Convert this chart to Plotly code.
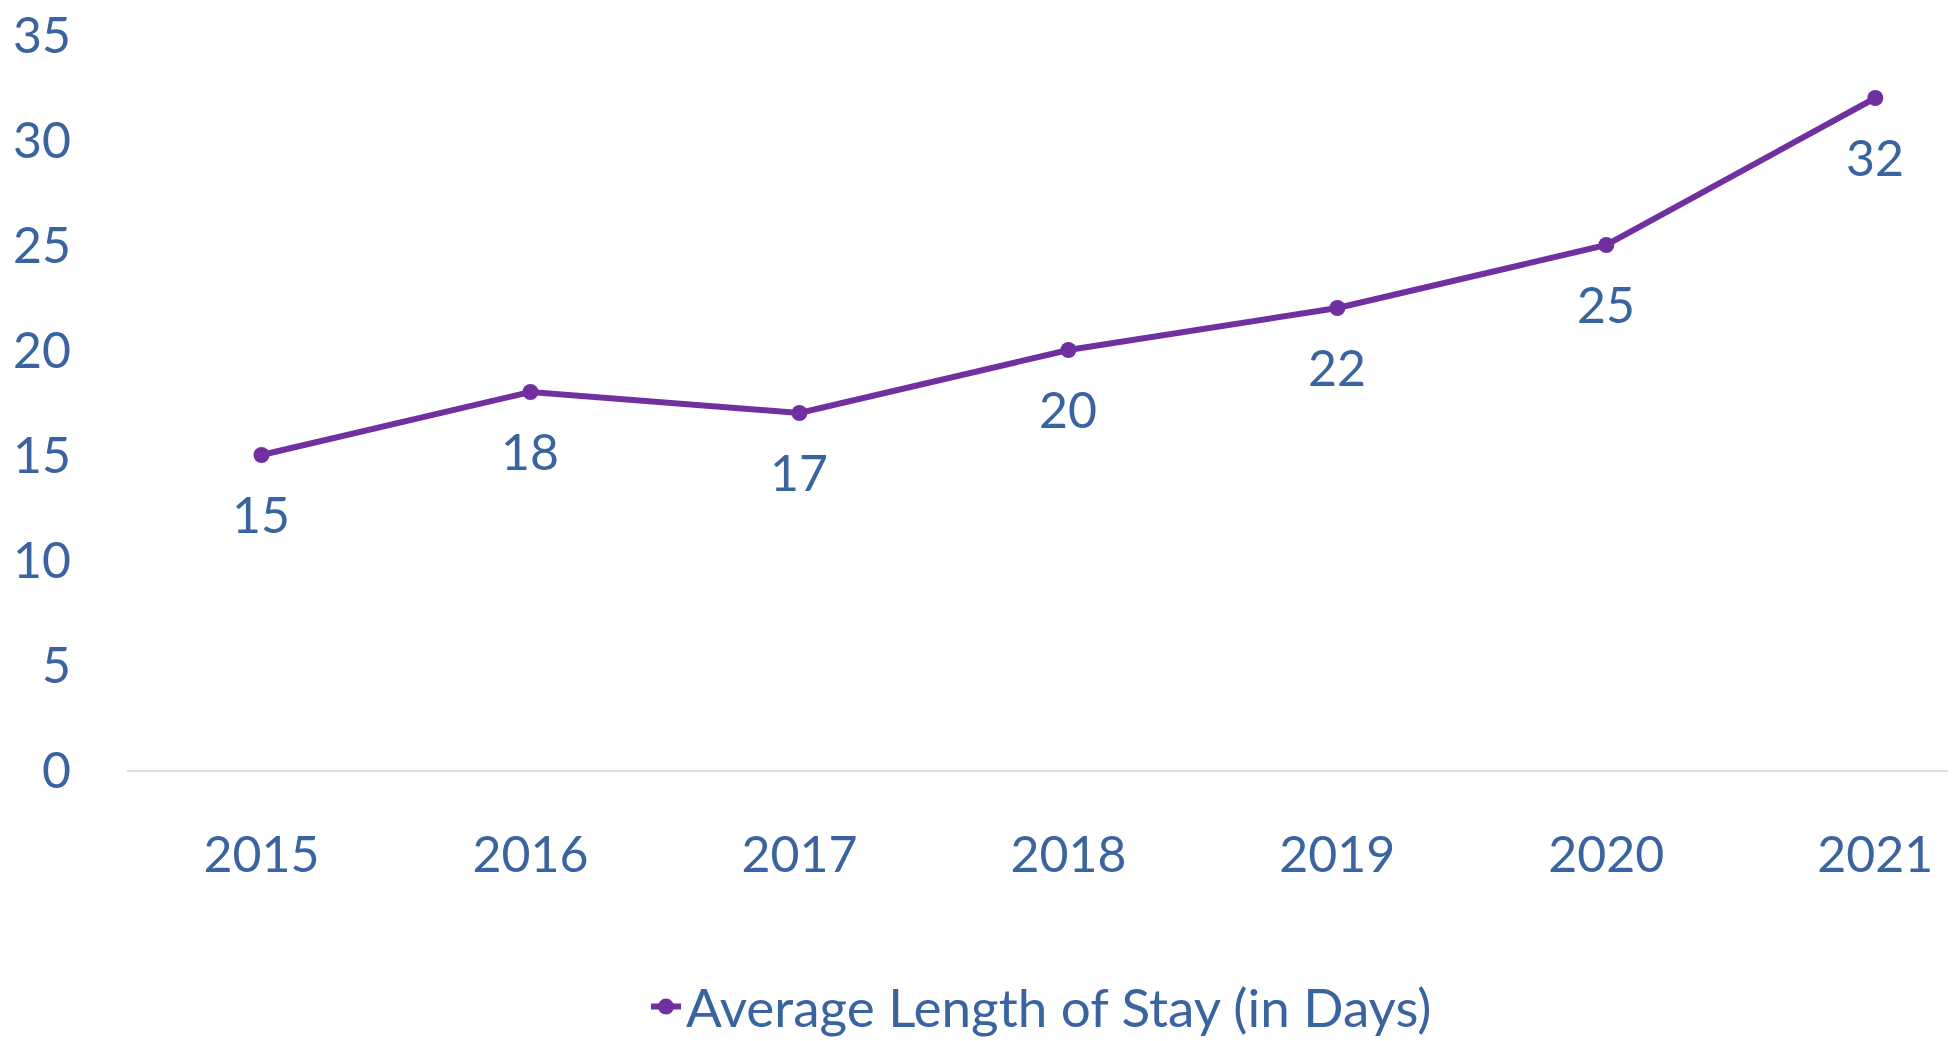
import plotly.graph_objects as go

years = ["2015", "2016", "2017", "2018", "2019", "2020", "2021"]
avg_stay = [15, 18, 17, 20, 22, 25, 32]
series_name = "Average Length of Stay (in Days)"

text_col = "#3A64A0"
line_col = "#7030A0"
font_fam = "Lato, 'Open Sans', sans-serif"

fig = go.Figure()
fig.add_trace(go.Scatter(
    x=years, y=avg_stay, name=series_name,
    mode="lines+markers",
    line=dict(color=line_col, width=6),
    marker=dict(color=line_col, size=16),
))

# data labels sit below each point (x given as category index)
for i, v in enumerate(avg_stay):
    fig.add_annotation(x=i, y=v, text=str(v), showarrow=False,
                       yshift=-59, font=dict(size=50, color=text_col, family=font_fam))

# page body adds an 8px offset, so margins are shifted to compensate;
# extra height at the bottom keeps the legend from pushing the plot area
fig.update_layout(
    width=1948, height=1050,
    margin=dict(l=119, r=0, t=27, b=288),
    paper_bgcolor="white", plot_bgcolor="white",
    font=dict(family=font_fam, color=text_col, size=50),
    showlegend=True,
    legend=dict(orientation="h", x=0.5, xanchor="center", y=-0.322, yanchor="middle",
                font=dict(size=53, color=text_col)),
)
fig.update_xaxes(type="category", range=[-0.5, 6.3], showgrid=False,
                 showline=True, linecolor="#D9DEE8", linewidth=2,
                 ticks="", ticklabelstandoff=40, automargin=False)
fig.update_yaxes(range=[0, 35], dtick=5, showgrid=False, zeroline=False,
                 showline=False, ticks="", ticklabelstandoff=55, automargin=False,
                 ticklabeloverflow="allow")

fig.write_html("out.html")
